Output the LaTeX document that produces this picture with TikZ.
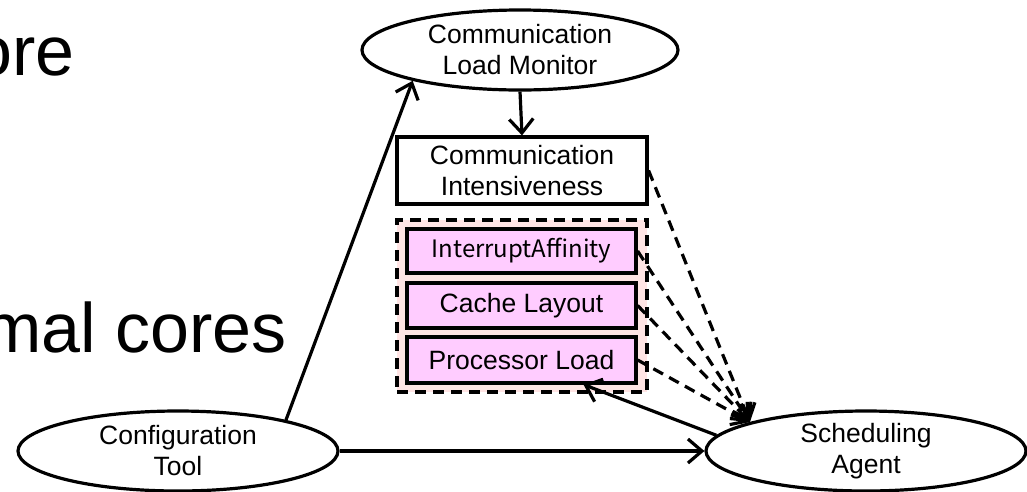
\documentclass[tikz,border=0pt]{standalone}
\usepackage{fontspec}
\setmainfont{Liberation Sans}
\newfontfamily\krfont{Noto Sans CJK KR}
\usetikzlibrary{shapes.geometric,arrows.meta}
\definecolor{grpfill}{RGB}{255,228,228}
\definecolor{boxfill}{RGB}{255,204,255}
\tikzset{
  lw/.style={line width=3.2pt},
  lbl/.style={font=\fontsize{26.5}{31}\selectfont},
  ell/.style={ellipse,draw,lw,fill=white,inner sep=0pt,align=center,lbl},
  rectbox/.style={rectangle,draw,lw,fill=white,inner sep=0pt,align=center,lbl},
  grpbox/.style={rectangle,draw,lw,fill=grpfill,dash pattern=on 11pt off 7pt,inner sep=0pt},
  itembox/.style={rectangle,draw,lw,fill=boxfill,inner sep=0pt,align=center,lbl},
  arr/.style={lw,-{Straight Barb[length=14pt,width=24pt]}},
  darr/.style={lw,dash pattern=on 11pt off 7pt,-{Straight Barb[length=14pt,width=24pt]}},
  bigtext/.style={inner sep=0pt,font=\fontsize{70}{80}\selectfont}
}
\begin{document}
\begin{tikzpicture}[x=1pt,y=-1pt]
\useasboundingbox (0,0) rectangle (1027,491);
% background slide text
\node[bigtext,anchor=base east] (t1) at (75,75) {ore};
\node[bigtext,anchor=base east] (t2) at (287,352) {mal cores};
% nodes
\node[ell,minimum width=316pt,minimum height=80pt] (clm) at (520,50) {Communication\\Load Monitor};
\node[rectbox,minimum width=250pt,minimum height=67pt] (ci) at (522,170.5) {Communication\\Intensiveness};
\node[grpbox,minimum width=250pt,minimum height=172pt] (grp) at (522,306) {};
\node[itembox,minimum width=229pt,minimum height=44pt,font=\fontsize{24}{28}\selectfont] (ia) at (521.5,251) {\krfont InterruptAffinity};
\node[itembox,minimum width=229pt,minimum height=45pt] (cl) at (521.5,305.5) {Cache Layout};
\node[itembox,minimum width=229pt,minimum height=46pt] (pl) at (521.5,360) {Processor Load};
\node[ell,minimum width=320pt,minimum height=80pt] (ct) at (178,451) {Configuration\\Tool};
\node[ell,minimum width=320pt,minimum height=80pt] (sa) at (866,451) {Scheduling\\Agent};
% connectors
\draw[arr] (clm.south) -- (ci.north);
\draw[arr] (ct.16) -- (clm.196);
\draw[arr] (ct.east) -- (sa.west);
\draw[arr] (sa.174) -- ([xshift=62pt]pl.south);
\draw[darr] (ci.east) -- (sa.166);
\draw[darr] (ia.east) -- (sa.166);
\draw[darr] (cl.east) -- (sa.166);
\draw[darr] (pl.east) -- (sa.166);
\end{tikzpicture}
\end{document}
